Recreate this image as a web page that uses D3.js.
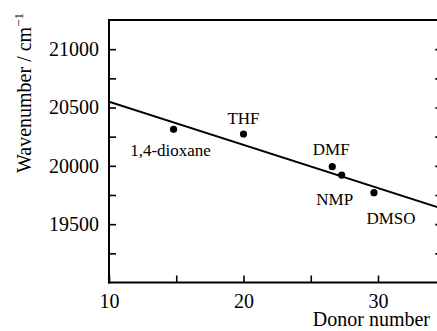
<!DOCTYPE html>
<html>
<head>
<meta charset="utf-8">
<script src="https://cdn.jsdelivr.net/npm/d3@7"></script>
<style>
  body { margin: 0; background: #fff; }
</style>
</head>
<body>
<div id="chart"></div>
<script>
// solvent points: donor number vs band wavenumber
var solvents = ["1,4-dioxane", "THF", "DMF", "NMP", "DMSO"];
var donorNumber = [14.8, 20.0, 26.6, 27.3, 29.7];
var wavenumber = [20313, 20273, 19993, 19921, 19770];
// label offsets (dx, dy) in px from each point
var labelDx = [-3, 0, -1, -7, 17];
var labelDy = [27, -10, -12, 30, 31];

// linear fit drawn across the axis
var fitX = [10, 35];
var fitY = [20550, 19625];

var xMajor = [10, 20, 30];
var xMinor = [15, 25, 35];
var yMajor = [19500, 20000, 20500, 21000];
var yMinor = [19250, 19750, 20250, 20750];

var FONT = "'Liberation Serif', 'DejaVu Serif', 'Times New Roman', serif";

var W = 437, H = 331;
var svg = d3.select("#chart").append("svg").attr("width", W).attr("height", H)
  .style("font-family", FONT);

var x = d3.scaleLinear().domain([10, 35]).range([109, 445.25]);
var y = d3.scaleLinear().domain([19000, 21250]).range([282.5, 20]);

var x0 = 109, x1 = 437, yb = 282.5, yt = 20;

svg.append("defs").append("clipPath").attr("id", "plot")
  .append("rect").attr("x", x0).attr("y", yt).attr("width", x1 - x0).attr("height", yb - yt);

// frame lines
svg.append("line").attr("x1", x0).attr("x2", x1).attr("y1", yt).attr("y2", yt)
  .attr("stroke", "#000").attr("stroke-width", 2);

function styleAxis(g) {
  g.attr("font-family", FONT).attr("font-size", 20);
  g.select(".domain").remove();
  g.selectAll(".tick line").attr("stroke", "#000").attr("stroke-width", 1.6);
  g.selectAll(".tick text").style("font-family", FONT).style("font-size", "20px").attr("fill", "#000");
}

// left axis
svg.append("g").attr("transform", "translate(" + x0 + ",0)")
  .call(d3.axisLeft(y).tickValues(yMajor).tickSize(-7).tickPadding(10).tickFormat(d3.format("d")))
  .call(styleAxis);
svg.append("g").attr("transform", "translate(" + x0 + ",0)")
  .call(d3.axisLeft(y).tickValues(yMinor).tickSize(-7).tickFormat(""))
  .call(styleAxis);

// right axis (mostly outside the picture)
svg.append("g").attr("transform", "translate(" + x(35) + ",0)")
  .call(d3.axisRight(y).tickValues(yMajor.concat(yMinor)).tickSize(-10).tickFormat(""))
  .call(styleAxis);

// bottom axis
svg.append("g").attr("transform", "translate(0," + yb + ")")
  .call(d3.axisBottom(x).tickValues(xMajor).tickSize(-7).tickPadding(11).tickFormat(d3.format("d")))
  .call(styleAxis);
svg.append("g").attr("transform", "translate(0," + yb + ")")
  .call(d3.axisBottom(x).tickValues(xMinor).tickSize(-7).tickFormat(""))
  .call(styleAxis);

svg.append("line").attr("x1", x0).attr("x2", x0).attr("y1", yt - 1).attr("y2", yb + 1)
  .attr("stroke", "#000").attr("stroke-width", 2);
svg.append("line").attr("x1", x0 - 1).attr("x2", x1).attr("y1", yb).attr("y2", yb)
  .attr("stroke", "#000").attr("stroke-width", 2);

// fit line
svg.append("line").attr("clip-path", "url(#plot)")
  .attr("x1", x(fitX[0])).attr("y1", y(fitY[0]))
  .attr("x2", x(fitX[1])).attr("y2", y(fitY[1]))
  .attr("stroke", "#000").attr("stroke-width", 2);

// points
svg.selectAll("circle.pt").data(solvents).enter().append("circle")
  .attr("class", "pt")
  .attr("cx", function(d, i) { return x(donorNumber[i]); })
  .attr("cy", function(d, i) { return y(wavenumber[i]); })
  .attr("r", 3.6).attr("fill", "#000");

svg.selectAll("text.lab").data(solvents).enter().append("text")
  .attr("class", "lab")
  .attr("x", function(d, i) { return x(donorNumber[i]) + labelDx[i]; })
  .attr("y", function(d, i) { return y(wavenumber[i]) + labelDy[i]; })
  .attr("text-anchor", "middle")
  .style("font-family", FONT)
  .style("font-size", "17px")
  .text(function(d) { return d; });

// axis titles
svg.append("text").attr("x", 430).attr("y", 326).attr("text-anchor", "end")
  .style("font-family", FONT).style("font-size", "20px").text("Donor number");

var yl = svg.append("text").attr("transform", "translate(31,93) rotate(-90)")
  .attr("text-anchor", "middle").style("font-family", FONT).style("font-size", "20px");
yl.append("tspan").text("Wavenumber / cm");
yl.append("tspan").attr("dy", -8).style("font-size", "13px").text("\u22121");
</script>
</body>
</html>
